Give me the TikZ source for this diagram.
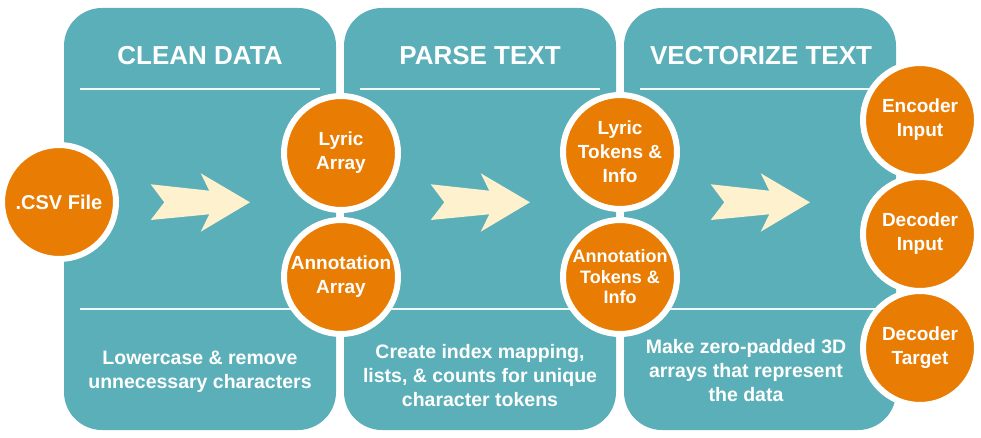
\documentclass[tikz,border=0pt]{standalone}
\usepackage{fontspec}
\setmainfont{Liberation Sans}
\definecolor{stagefill}{HTML}{5AAFB8}
\definecolor{discfill}{HTML}{E97D04}
\definecolor{arrowfill}{HTML}{FEF1CE}
\begin{document}
\begin{tikzpicture}[x=1pt,y=-1pt,
  stage/.style={fill=stagefill, rounded corners=38pt},
  rule/.style={draw=white!92!stagefill, line width=1.5pt},
  heading/.style={text=white, font=\bfseries\fontsize{26}{30}\selectfont},
  note/.style={text=white, align=center, font=\bfseries\fontsize{19.5}{24}\selectfont},
  bubble/.style={circle, fill=discfill, draw=white, line width=6pt,
    minimum size=114pt, inner sep=0pt, text=white, align=center,
    font=\bfseries\fontsize{19}{24}\selectfont},
  pics/bigarrow/.style={code={
    \fill[arrowfill] (-99.3,-18) -- (-40.7,-11.6) -- (-49.3,-29) -- (0,0)
      -- (-49.3,29.4) -- (-40.7,12) -- (-99.3,17.7) -- (-85.7,0) -- cycle;}}]
\useasboundingbox (0,0) rectangle (981,438);

% stage panels
\fill[stage] (64,8) rectangle (336,430);
\fill[stage] (344,8) rectangle (616,430);
\fill[stage] (624,8) rectangle (896,430);

% separator rules
\foreach \x in {80,360,640} {
  \draw[rule] (\x,89) -- ++(240,0);
  \draw[rule] (\x,309) -- ++(240,0);
}

% stage headings
\node[heading] (h1) at (200,55.5) {CLEAN DATA};
\node[heading] (h2) at (480,55.5) {PARSE TEXT};
\node[heading] (h3) at (761,55.5) {VECTORIZE TEXT};

% block arrows
\pic at (250,202.3) {bigarrow};
\pic at (530,202.3) {bigarrow};
\pic at (810,202.3) {bigarrow};

% stage descriptions
\node[note] (n1) at (200,371.5) {Lowercase \& remove\\unnecessary characters};
\node[note] (n2) at (480,376) {Create index mapping,\\lists, \& counts for unique\\character tokens};
\node[note] (n3) at (746,371) {Make zero-padded 3D\\arrays that represent\\the data};

% data discs
\node[bubble, font=\bfseries\fontsize{20}{24}\selectfont] (csv) at (59,202) {.CSV File};
\node[bubble] (lyrarr) at (341,153) {Lyric\\Array};
\node[bubble] (annarr) at (341,277) {Annotation\\Array};
\node[bubble] (lyrtok) at (620,152) {Lyric\\Tokens \&\\Info};
\node[bubble, font=\bfseries\fontsize{18}{20.5}\selectfont] (anntok) at (620,277) {Annotation\\Tokens \&\\Info};
\node[bubble] (encin) at (920,120) {Encoder\\Input};
\node[bubble] (decin) at (920,234) {Decoder\\Input};
\node[bubble] (dectg) at (920,348) {Decoder\\Target};
\end{tikzpicture}
\end{document}
